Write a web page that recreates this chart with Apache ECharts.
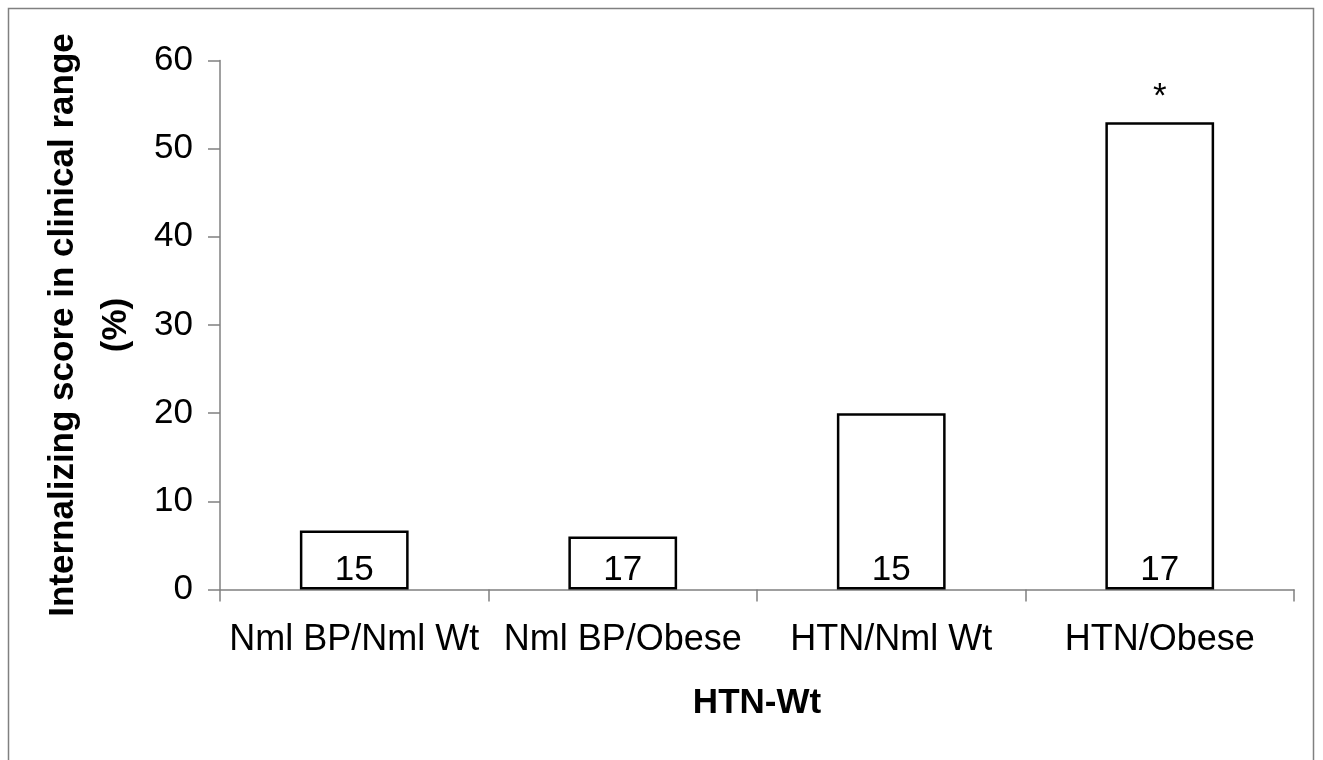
<!DOCTYPE html>
<html>
<head>
<meta charset="utf-8">
<script src="https://cdn.jsdelivr.net/npm/echarts@6/dist/echarts.min.js"></script>
<style>
  html, body { margin: 0; padding: 0; background: #fff; }
  #chart { width: 1323px; height: 760px; }
</style>
</head>
<body>
<div id="chart"></div>
<script>
// groups on the x axis
const groups = ['Nml BP/Nml Wt', 'Nml BP/Obese', 'HTN/Nml Wt', 'HTN/Obese'];
// percent with internalizing score in clinical range
const pctClinical = [6.7, 6.0, 20, 53];
// n per group, printed inside each bar
const sampleSizes = [15, 17, 15, 17];
// significance marks above bars
const sigMarks = ['', '', '', '*'];
const yTicks = [0, 10, 20, 30, 40, 50, 60];

const font = '"Liberation Sans", Arial, sans-serif';
let chart = echarts.init(document.getElementById('chart'));

let option = {
    animation: false,
    backgroundColor: '#fff',
    graphic: [{
        type: 'rect',
        shape: { x: 8.5, y: 8.5, width: 1305, height: 800 },
        style: { fill: 'none', stroke: '#808080', lineWidth: 1.5 },
        z: -1
    }],
    grid: { left: 220, right: 29, top: 60.5, bottom: 170.5, containLabel: false, outerBoundsMode: 'none' },
    xAxis: {
        type: 'category',
        data: groups,
        name: 'HTN-Wt',
        nameLocation: 'middle',
        nameGap: 96,
        nameTextStyle: { fontFamily: font, fontSize: 35, fontWeight: 'bold', color: '#000' },
        axisLine: { lineStyle: { color: '#808080', width: 1.5 } },
        axisTick: { show: true, length: 12, inside: false, lineStyle: { color: '#808080', width: 1.5 } },
        axisLabel: { fontFamily: font, fontSize: 36, color: '#000', margin: 33, interval: 0 }
    },
    yAxis: {
        type: 'value',
        min: yTicks[0],
        max: yTicks[yTicks.length - 1],
        interval: 10,
        name: 'Internalizing score in clinical range\n(%)',
        nameLocation: 'middle',
        nameGap: 76,
        nameTextStyle: { fontFamily: font, fontSize: 35, fontWeight: 'bold', color: '#000', lineHeight: 53 },
        axisLine: { show: true, lineStyle: { color: '#808080', width: 1.5 } },
        axisTick: { show: true, length: 12, lineStyle: { color: '#808080', width: 1.5 } },
        axisLabel: { fontFamily: font, fontSize: 35, color: '#000', margin: 27 },
        splitLine: { show: false }
    },
    series: [
        {
            type: 'bar',
            data: pctClinical,
            barWidth: '40.5%',
            itemStyle: { color: '#fff', borderColor: '#000', borderWidth: 2.5 },
            label: {
                show: true,
                position: 'insideBottom',
                distance: 2,
                fontFamily: font,
                fontSize: 35,
                color: '#000',
                formatter: p => String(sampleSizes[p.dataIndex])
            },
            z: 3
        },
        {
            type: 'bar',
            data: pctClinical,
            barWidth: '40.5%',
            barGap: '-100%',
            itemStyle: { color: 'rgba(0,0,0,0)' },
            label: {
                show: true,
                position: 'top',
                distance: 7,
                fontFamily: font,
                fontSize: 35,
                color: '#000',
                formatter: p => sigMarks[p.dataIndex]
            },
            silent: true,
            z: 4
        }
    ]
};
chart.setOption(option);
</script>
</body>
</html>
